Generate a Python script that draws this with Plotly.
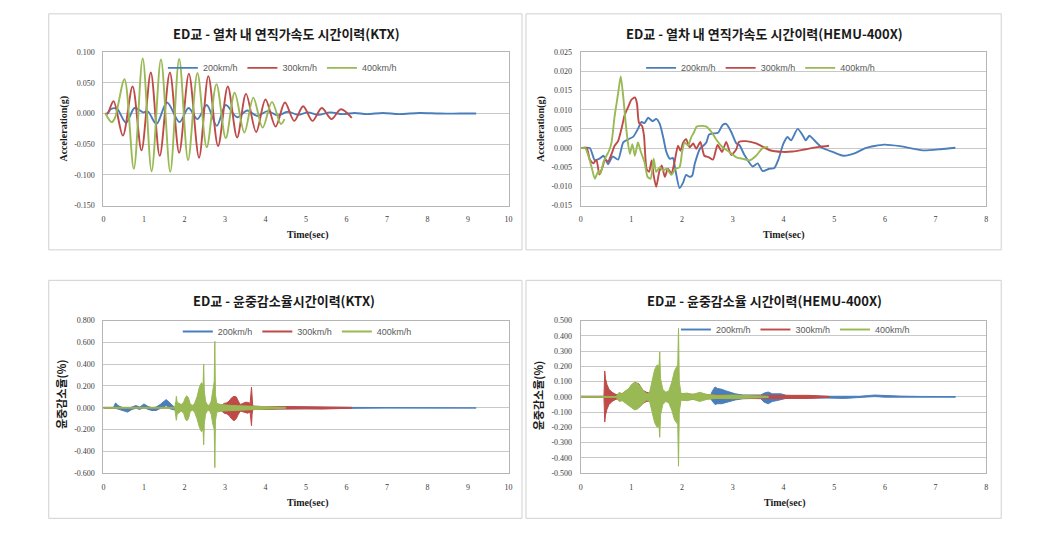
import plotly.graph_objects as go

# ---------------- data ----------------
speeds = ["200km/h", "300km/h", "400km/h"]
colors = ["#4A7EBB", "#BE4B48", "#98B954"]

titles = [
    "ED교 - 열차 내 연직가속도 시간이력(KTX)",
    "ED교 - 열차 내 연직가속도 시간이력(HEMU-400X)",
    "ED교 - 윤중감소율시간이력(KTX)",
    "ED교 - 윤중감소율 시간이력(HEMU-400X)",
]
x_title = "Time(sec)"
y_titles = ["Acceleration(g)", "Acceleration(g)", "윤중감소율(%)", "윤중감소율(%)"]

# Panel 1 : KTX vertical acceleration (g)
ktx_acc_t_200 = [0.05, 0.1, 0.18, 0.33, 0.56, 0.77, 0.98, 1.1, 1.31, 1.57, 1.88, 2.1, 2.32, 2.55, 2.8,
                 3.02, 3.3, 3.55, 3.8, 4.05, 4.3, 4.55, 4.8, 5.05, 5.3, 5.6, 5.9, 6.2, 6.5, 6.9, 7.3,
                 7.8, 8.3, 8.8, 9.2]
ktx_acc_v_200 = [0, 0, 0.007, 0.008, -0.015, 0.009, 0.002, 0.003, -0.017, 0.018, -0.014, 0.009, -0.009,
                 0.014, -0.020, 0.014, -0.006, 0.005, -0.004, 0.004, -0.003, 0.003, -0.002, 0.002,
                 -0.002, 0.002, -0.001, 0.001, -0.001, 0.001, -0.001, 0.001, 0, 0, 0]
ktx_acc_t_300 = [0.05, 0.1, 0.25, 0.48, 0.72, 0.94, 1.17, 1.39, 1.64, 1.87, 2.11, 2.36, 2.59, 2.83, 3.07,
                 3.30, 3.52, 3.77, 4.0, 4.25, 4.48, 4.71, 4.93, 5.16, 5.39, 5.63, 5.86, 6.13]
ktx_acc_v_300 = [0, 0, 0.020, -0.036, 0.044, -0.060, 0.067, -0.069, 0.067, -0.064, 0.065, -0.072, 0.061,
                 -0.053, 0.044, -0.039, 0.032, -0.030, 0.023, -0.021, 0.018, -0.012, 0.012, -0.012,
                 0.009, -0.009, 0.007, -0.007]
ktx_acc_t_400 = [0.05, 0.2, 0.28, 0.52, 0.75, 0.97, 1.19, 1.42, 1.65, 1.87, 2.09, 2.32, 2.55, 2.79, 3.02,
                 3.24, 3.48, 3.70, 3.93, 4.16, 4.38, 4.47]
ktx_acc_v_400 = [0, -0.014, -0.008, 0.056, -0.090, 0.090, -0.094, 0.088, -0.095, 0.089, -0.076, 0.066,
                 -0.055, 0.048, -0.040, 0.034, -0.031, 0.026, -0.023, 0.019, -0.017, -0.009]

# Panel 2 : HEMU-400X vertical acceleration (g)
hemu_acc_t_200 = [0, 0.18, 0.28, 0.38, 0.45, 0.54, 0.63, 0.74, 0.84, 0.94, 1.04, 1.13, 1.2, 1.26, 1.33,
                  1.42, 1.49, 1.56, 1.63, 1.69, 1.76, 1.82, 1.87, 1.95, 2.02, 2.08, 2.15, 2.2, 2.25,
                  2.36, 2.42, 2.48, 2.53, 2.61, 2.71, 2.8, 2.87, 2.97, 3.07, 3.13, 3.23, 3.39, 3.49,
                  3.59, 3.72, 3.82, 3.9, 4.0, 4.08, 4.15, 4.28, 4.38, 4.44, 4.51, 4.64, 4.77, 4.97,
                  5.18, 5.4, 5.62, 5.98, 6.3, 6.75, 7.1, 7.39]
hemu_acc_v_200 = [0, 0, -0.0032, -0.0027, -0.0020, -0.0042, -0.0022, -0.0030, 0.0015, 0.0023, 0.0030,
                  0.0050, 0.0068, 0.0065, 0.0079, 0.0070, 0.0076, 0.0063, 0.0027, -0.0010, -0.0028,
                  -0.0026, -0.0058, -0.0104, -0.0090, -0.0070, -0.0075, -0.0072, -0.0041, 0.0000,
                  0.0006, 0.0015, 0.0035, 0.0038, 0.0040, 0.0060, 0.0063, 0.0042, 0.0012, 0.0008,
                  -0.0018, -0.0048, -0.0040, -0.0060, -0.0054, -0.0052, -0.0030, 0.0012, 0.0029,
                  0.0020, 0.0050, 0.0033, 0.0020, 0.0032, 0.0016, 0.0000, -0.0010, -0.0020, -0.0014,
                  0.0000, 0.0009, 0.0005, -0.0006, -0.0003, 0.0001]
hemu_acc_t_300 = [0, 0.12, 0.18, 0.25, 0.31, 0.37, 0.43, 0.48, 0.54, 0.61, 0.67, 0.74, 0.81, 0.87, 0.94,
                  1.0, 1.07, 1.11, 1.15, 1.21, 1.25, 1.30, 1.35, 1.40, 1.44, 1.49, 1.55, 1.60, 1.66,
                  1.72, 1.79, 1.85, 1.92, 1.97, 2.02, 2.08, 2.15, 2.22, 2.28, 2.36, 2.44, 2.53, 2.61,
                  2.70, 2.79, 2.87, 2.97, 3.07, 3.12, 3.26, 3.46, 3.72, 3.98, 4.18, 4.44, 4.70, 4.90]
hemu_acc_v_300 = [0, 0, -0.0030, -0.0040, -0.0030, -0.0069, -0.0050, -0.0030, -0.0035, -0.0015, 0.0006,
                  0.0019, 0.0053, 0.0087, 0.0108, 0.0126, 0.0132, 0.0117, 0.0066, 0.0058, 0.0032,
                  -0.0054, -0.0062, -0.0032, -0.0071, -0.0101, -0.0062, -0.0045, -0.0075, -0.0054,
                  -0.0066, -0.0037, 0.0006, -0.0007, 0.0014, 0.0023, 0.0002, 0.0012, -0.0002, 0.0016,
                  -0.0020, -0.0024, -0.0030, 0.0008, -0.0010, 0.0016, -0.0018, -0.0003, 0.0016,
                  0.0018, 0.0012, -0.0005, -0.0010, -0.0009, -0.0003, 0.0003, 0.0006]
hemu_acc_t_400 = [0, 0.09, 0.17, 0.22, 0.28, 0.35, 0.39, 0.45, 0.51, 0.56, 0.61, 0.67, 0.74, 0.79, 0.84,
                  0.90, 0.97, 1.02, 1.07, 1.13, 1.18, 1.26, 1.32, 1.38, 1.44, 1.49, 1.56, 1.62, 1.70,
                  1.79, 1.87, 1.95, 2.0, 2.05, 2.12, 2.18, 2.23, 2.29, 2.38, 2.48, 2.58, 2.67, 2.80,
                  2.94, 3.07, 3.20, 3.33, 3.46, 3.59, 3.70]
hemu_acc_v_400 = [0, 0, -0.0028, -0.0052, -0.0080, -0.0060, -0.0067, -0.0037, -0.0020, -0.0007, 0.0015,
                  0.0083, 0.0143, 0.0187, 0.0134, 0.0050, -0.0015, 0.0010, -0.0020, 0.0015, -0.0007,
                  -0.0037, -0.0075, -0.0080, -0.0028, -0.0062, -0.0050, -0.0058, -0.0054, -0.0070,
                  -0.0054, -0.0050, -0.0011, 0.0015, 0.0006, 0.0028, 0.0040, 0.0056, 0.0058, 0.0056,
                  0.0042, 0.0023, 0.0002, -0.0011, -0.0024, -0.0028, -0.0032, -0.0020, 0.0000, 0.0003]

# Panel 3 : KTX wheel-load reduction (%), upper / lower envelopes of the dense trace
ktx_wl_t_200 = [0, 0.25, 0.3, 0.36, 0.45, 0.6, 0.7, 0.8, 0.9, 1.0, 1.1, 1.2, 1.3, 1.4, 1.55, 1.65, 1.75,
                2.0, 2.5, 3.0, 3.4, 3.6, 4.0, 4.5, 4.8, 5.2, 6.0, 7.0, 8.0, 9.2]
ktx_wl_up_200 = [0.003, 0.003, 0.045, 0.02, 0.005, -0.008, 0.006, 0.02, 0.006, 0.035, 0.012, 0.0, 0.006,
                 0.03, 0.075, 0.04, 0.006, 0.01, 0.01, 0.012, 0.01, 0.012, 0.01, 0.012, 0.008, 0.005,
                 0.004, 0.003, 0.003, 0.002]
ktx_wl_lo_200 = [-0.003, -0.003, -0.005, -0.015, -0.02, -0.04, -0.016, -0.005, -0.015, 0.005, -0.015,
                 -0.025, -0.025, -0.01, 0.02, -0.01, -0.02, -0.01, -0.01, -0.012, -0.03, -0.012, -0.01,
                 -0.012, -0.008, -0.005, -0.004, -0.003, -0.003, -0.002]
ktx_wl_t_300 = [0, 2.78, 2.85, 2.92, 2.98, 3.04, 3.10, 3.16, 3.22, 3.28, 3.33, 3.38, 3.44, 3.50, 3.56,
                3.62, 3.655, 3.67, 3.685, 3.72, 3.8, 4.0, 4.3, 4.6, 5.0, 5.4, 5.8, 6.13]
ktx_wl_up_300 = [0.003, 0.003, 0.03, 0.025, 0.04, 0.045, 0.06, 0.09, 0.105, 0.10, 0.06, 0.03, 0.04, 0.05,
                 0.05, 0.04, 0.19, 0.06, 0.02, 0.015, 0.012, 0.01, 0.012, 0.01, 0.008, 0.008, 0.006,
                 0.004]
ktx_wl_lo_300 = [-0.003, -0.003, -0.03, -0.03, -0.05, -0.055, -0.07, -0.10, -0.12, -0.10, -0.06, -0.03,
                 -0.04, -0.045, -0.05, -0.04, -0.165, -0.06, -0.02, -0.015, -0.012, -0.015, -0.012,
                 -0.015, -0.01, -0.012, -0.008, -0.004]
ktx_wl_t_400 = [0, 1.76, 1.79, 1.80, 1.82, 1.86, 1.92, 1.98, 2.03, 2.06, 2.10, 2.14, 2.19, 2.25, 2.31,
                2.37, 2.42, 2.46, 2.475, 2.49, 2.52, 2.56, 2.61, 2.66, 2.70, 2.735, 2.75, 2.765, 2.80,
                2.9, 3.2, 3.6, 4.0, 4.5]
ktx_wl_up_400 = [0.004, 0.004, 0.06, 0.105, 0.05, 0.04, 0.03, 0.05, 0.10, 0.11, 0.09, 0.04, 0.02, 0.04,
                 0.10, 0.19, 0.23, 0.21, 0.40, 0.16, 0.06, 0.03, 0.02, 0.06, 0.15, 0.24, 0.61, 0.12,
                 0.04, 0.03, 0.02, 0.015, 0.012, 0.004]
ktx_wl_lo_400 = [-0.004, -0.004, -0.07, -0.115, -0.06, -0.05, -0.03, -0.05, -0.11, -0.12, -0.10, -0.04,
                 -0.02, -0.04, -0.10, -0.18, -0.22, -0.20, -0.34, -0.15, -0.06, -0.03, -0.02, -0.06,
                 -0.15, -0.20, -0.55, -0.12, -0.04, -0.03, -0.02, -0.015, -0.012, -0.004]

# Panel 4 : HEMU-400X wheel-load reduction (%), envelopes
hemu_wl_t_200 = [0, 2.55, 2.6, 2.65, 2.7, 2.78, 2.86, 2.95, 3.05, 3.2, 3.4, 3.55, 3.62, 3.7, 3.78, 3.86,
                 3.95, 4.05, 4.2, 4.5, 4.9, 5.2, 5.5, 5.8, 6.0, 6.3, 6.7, 7.0, 7.39]
hemu_wl_up_200 = [0.003, 0.003, 0.04, 0.065, 0.055, 0.05, 0.04, 0.03, 0.02, 0.012, 0.01, 0.012, 0.025,
                  0.032, 0.02, 0.02, 0.02, 0.01, 0.008, 0.006, 0.004, 0.003, 0.004, 0.012, 0.008, 0.005,
                  0.003, 0.003, 0.002]
hemu_wl_lo_200 = [-0.003, -0.003, -0.03, -0.05, -0.045, -0.045, -0.04, -0.03, -0.02, -0.012, -0.01,
                  -0.012, -0.035, -0.045, -0.03, -0.025, -0.02, -0.01, -0.008, -0.006, -0.008, -0.01,
                  -0.006, 0.002, -0.002, -0.004, -0.003, -0.003, -0.002]
hemu_wl_t_300 = [0, 0.46, 0.475, 0.49, 0.52, 0.56, 0.62, 0.70, 0.80, 0.90, 1.0, 1.07, 1.15, 1.22, 1.3,
                 1.5, 1.7, 1.9, 2.1, 2.3, 2.6, 3.0, 3.5, 4.0, 4.5, 4.9]
hemu_wl_up_300 = [0.004, 0.004, 0.17, 0.12, 0.08, 0.05, 0.03, 0.015, 0.02, 0.035, 0.07, 0.095, 0.085,
                  0.045, 0.03, 0.02, 0.02, 0.02, 0.02, 0.015, 0.012, 0.01, 0.01, 0.01, 0.01, 0.003]
hemu_wl_lo_300 = [-0.004, -0.004, -0.165, -0.12, -0.08, -0.05, -0.03, -0.015, -0.02, -0.035, -0.06,
                  -0.075, -0.07, -0.045, -0.03, -0.02, -0.02, -0.02, -0.02, -0.015, -0.012, -0.01,
                  -0.01, -0.01, -0.01, -0.003]
hemu_wl_t_400 = [0, 0.70, 0.76, 0.82, 0.88, 0.94, 1.0, 1.06, 1.12, 1.18, 1.24, 1.30, 1.36, 1.41, 1.46,
                 1.51, 1.545, 1.56, 1.575, 1.62, 1.68, 1.74, 1.80, 1.85, 1.89, 1.915, 1.93, 1.945,
                 1.98, 2.1, 2.2, 2.35, 2.5, 2.7, 3.0, 3.4, 3.7]
hemu_wl_up_400 = [0.003, 0.003, 0.03, 0.02, 0.04, 0.05, 0.08, 0.095, 0.09, 0.07, 0.04, 0.02, 0.03, 0.10,
                  0.18, 0.21, 0.20, 0.295, 0.12, 0.05, 0.03, 0.04, 0.10, 0.17, 0.19, 0.21, 0.45, 0.10,
                  0.02, 0.025, 0.015, 0.03, 0.015, 0.01, 0.012, 0.008, 0.004]
hemu_wl_lo_400 = [-0.003, -0.003, -0.03, -0.025, -0.04, -0.05, -0.07, -0.085, -0.08, -0.06, -0.04,
                  -0.02, -0.03, -0.10, -0.17, -0.20, -0.19, -0.265, -0.12, -0.05, -0.03, -0.04, -0.09,
                  -0.15, -0.17, -0.18, -0.455, -0.10, -0.02, -0.025, -0.015, -0.03, -0.015, -0.01,
                  -0.012, -0.008, -0.004]

# tick values / labels
x_ticks_10 = [0, 1, 2, 3, 4, 5, 6, 7, 8, 9, 10]
x_ticks_8 = [0, 1, 2, 3, 4, 5, 6, 7, 8]
y_ticks_1 = [0.1, 0.05, 0.0, -0.05, -0.1, -0.15]
y_text_1 = ["0.100", "0.050", "0.000", "-0.050", "-0.100", "-0.150"]
y_ticks_2 = [0.025, 0.02, 0.015, 0.01, 0.005, 0.0, -0.005, -0.01, -0.015]
y_text_2 = ["0.025", "0.020", "0.015", "0.010", "0.005", "0.000", "-0.005", "-0.010", "-0.015"]
y_ticks_3 = [0.8, 0.6, 0.4, 0.2, 0.0, -0.2, -0.4, -0.6]
y_text_3 = ["0.800", "0.600", "0.400", "0.200", "0.000", "-0.200", "-0.400", "-0.600"]
y_ticks_4 = [0.5, 0.4, 0.3, 0.2, 0.1, 0.0, -0.1, -0.2, -0.3, -0.4, -0.5]
y_text_4 = ["0.500", "0.400", "0.300", "0.200", "0.100", "0.000", "-0.100", "-0.200", "-0.300",
            "-0.400", "-0.500"]

# ---------------- layout helpers ----------------
W, H = 1042, 543
def fx(p): return p / W
def fy(p): return 1 - p / H

SERIF = "Liberation Serif"
KOR = "Noto Sans CJK KR"
SANS = "Liberation Sans"

panels = [
    dict(box=(47, 10, 523, 250), plot=(102, 49, 509.5, 205), xr=[0, 10], xt=x_ticks_10,
         yr=[-0.15, 0.1], yt=y_ticks_1, ytt=y_text_1, title_xy=(286, 30), xt_xy=(307, 235),
         yt_xy=(62, 127), leg_xy=(282, 65), ytfont=SERIF, ytsize=10),
    dict(box=(527, 10, 1005, 250), plot=(582, 49, 990, 205), xr=[0, 8], xt=x_ticks_8,
         yr=[-0.015, 0.025], yt=y_ticks_2, ytt=y_text_2, title_xy=(767, 30), xt_xy=(786, 235),
         yt_xy=(542, 127), leg_xy=(763, 65), ytfont=SERIF, ytsize=10),
    dict(box=(47, 281, 523, 523), plot=(102, 322, 509.5, 477), xr=[0, 10], xt=x_ticks_10,
         yr=[-0.6, 0.8], yt=y_ticks_3, ytt=y_text_3, title_xy=(284, 302), xt_xy=(307, 507),
         yt_xy=(60, 397), leg_xy=(297, 333), ytfont=KOR, ytsize=11),
    dict(box=(527, 281, 1005, 523), plot=(582, 322, 990, 477), xr=[0, 8], xt=x_ticks_8,
         yr=[-0.5, 0.5], yt=y_ticks_4, ytt=y_text_4, title_xy=(767, 301), xt_xy=(787, 507),
         yt_xy=(540, 398), leg_xy=(798, 331), ytfont=KOR, ytsize=11),
]

line_series = [
    [(ktx_acc_t_200, ktx_acc_v_200), (ktx_acc_t_300, ktx_acc_v_300), (ktx_acc_t_400, ktx_acc_v_400)],
    [(hemu_acc_t_200, hemu_acc_v_200), (hemu_acc_t_300, hemu_acc_v_300),
     (hemu_acc_t_400, hemu_acc_v_400)],
]
band_series = [
    [(ktx_wl_t_200, ktx_wl_up_200, ktx_wl_lo_200), (ktx_wl_t_300, ktx_wl_up_300, ktx_wl_lo_300),
     (ktx_wl_t_400, ktx_wl_up_400, ktx_wl_lo_400)],
    [(hemu_wl_t_200, hemu_wl_up_200, hemu_wl_lo_200), (hemu_wl_t_300, hemu_wl_up_300, hemu_wl_lo_300),
     (hemu_wl_t_400, hemu_wl_up_400, hemu_wl_lo_400)],
]

fig = go.Figure()
legend_names = ["legend", "legend2", "legend3", "legend4"]

for i in range(4):
    xa = "x" if i == 0 else f"x{i+1}"
    ya = "y" if i == 0 else f"y{i+1}"
    lg = legend_names[i]
    if i < 2:
        for k, (t, v) in enumerate(line_series[i]):
            fig.add_trace(go.Scatter(
                x=t, y=v, mode="lines", name=speeds[k], legend=lg, xaxis=xa, yaxis=ya,
                line=dict(color=colors[k], width=1.9, shape="spline", smoothing=0.9 if i == 0 else 0.6),
                hoverinfo="skip"))
    else:
        for k, (t, up, lo) in enumerate(band_series[i - 2]):
            fig.add_trace(go.Scatter(
                x=list(t) + list(t)[::-1], y=list(up) + list(lo)[::-1], mode="lines",
                fill="toself", fillcolor=colors[k], name=speeds[k], showlegend=False,
                legend=lg, xaxis=xa, yaxis=ya,
                line=dict(color=colors[k], width=1.0), hoverinfo="skip"))
        for k in range(3):
            fig.add_trace(go.Scatter(
                x=[None], y=[None], mode="lines", name=speeds[k], legend=lg, xaxis=xa, yaxis=ya,
                line=dict(color=colors[k], width=1.9)))

layout = dict(
    width=W, height=H, margin=dict(l=0, r=0, t=0, b=0),
    paper_bgcolor="white", plot_bgcolor="white", showlegend=True,
)
shapes = []
annotations = []
for i, p in enumerate(panels):
    sfx = "" if i == 0 else str(i + 1)
    x0, y0, x1, y1 = p["plot"]
    layout["xaxis" + sfx] = dict(
        domain=[fx(x0), fx(x1)], range=p["xr"], tickvals=p["xt"], ticktext=[str(v) for v in p["xt"]],
        showgrid=False, zeroline=False, showline=True, linecolor="#b5b5b5", linewidth=1,
        mirror=True, anchor="y" + sfx, ticks="", ticklabelstandoff=6,
        tickfont=dict(family=SERIF, size=8, color="#404040"), fixedrange=True)
    layout["yaxis" + sfx] = dict(
        domain=[fy(y1), fy(y0)], range=p["yr"], tickvals=p["yt"], ticktext=p["ytt"],
        showgrid=True, gridcolor="#c8c8c8", gridwidth=1, zeroline=False, showline=True,
        linecolor="#b5b5b5", linewidth=1, mirror=True, anchor="x" + sfx, ticks="",
        ticklabelstandoff=6, tickfont=dict(family=SERIF, size=8, color="#404040"), fixedrange=True)
    layout[legend_names[i]] = dict(
        orientation="h", x=fx(p["leg_xy"][0]), y=fy(p["leg_xy"][1]), xanchor="center",
        yanchor="middle", bgcolor="rgba(0,0,0,0)", font=dict(family=SANS, size=9, color="#595959"),
        itemclick=False, itemdoubleclick=False)
    bx0, by0, bx1, by1 = p["box"]
    shapes.append(dict(type="rect", xref="paper", yref="paper", x0=fx(bx0), x1=fx(bx1),
                       y0=fy(by1), y1=fy(by0), line=dict(color="#d0d0d0", width=1)))
    annotations.append(dict(text="<b>" + titles[i] + "</b>", xref="paper", yref="paper",
                            x=fx(p["title_xy"][0]), y=fy(p["title_xy"][1]), showarrow=False,
                            xanchor="center", yanchor="middle",
                            font=dict(family=KOR, size=13, color="#1a1a1a")))
    annotations.append(dict(text="<b>" + x_title + "</b>", xref="paper", yref="paper",
                            x=fx(p["xt_xy"][0]), y=fy(p["xt_xy"][1]), showarrow=False,
                            xanchor="center", yanchor="middle",
                            font=dict(family=SERIF, size=10, color="#1a1a1a")))
    annotations.append(dict(text="<b>" + y_titles[i] + "</b>", xref="paper", yref="paper",
                            x=fx(p["yt_xy"][0]), y=fy(p["yt_xy"][1]), showarrow=False,
                            xanchor="center", yanchor="middle", textangle=-90,
                            font=dict(family=p["ytfont"], size=p["ytsize"], color="#1a1a1a")))

layout["shapes"] = shapes
layout["annotations"] = annotations
fig.update_layout(**layout)

fig.write_html("out.html", config={"displayModeBar": False},
               post_script="document.body.style.margin='0px';document.body.style.overflow='hidden';")
